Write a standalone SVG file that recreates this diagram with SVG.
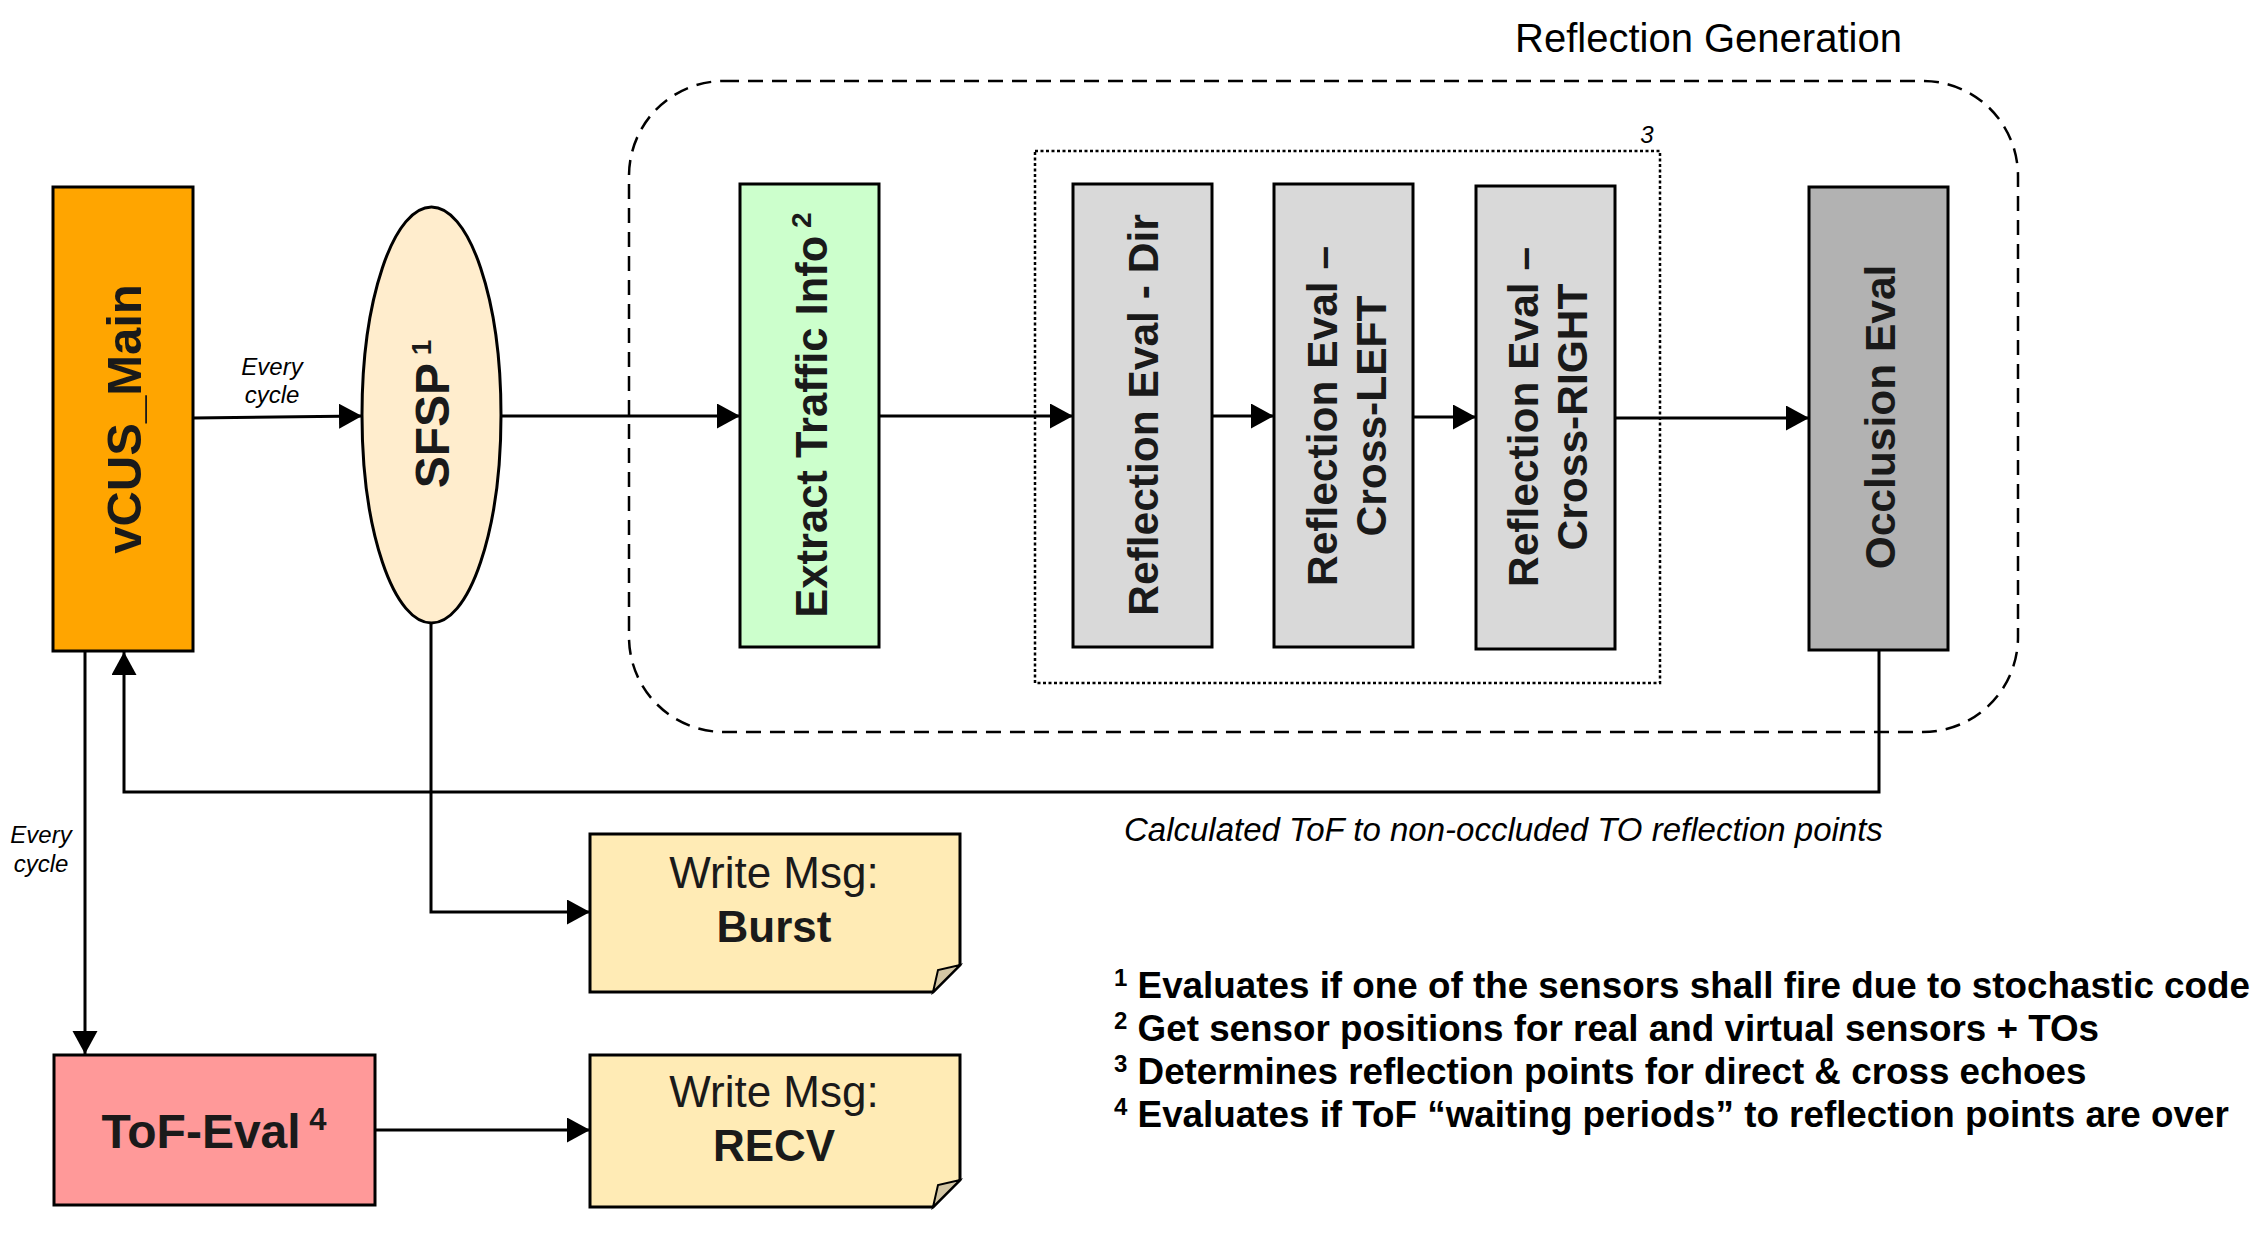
<svg xmlns="http://www.w3.org/2000/svg" width="2260" height="1233" viewBox="0 0 2260 1233">
  <style>
    .node { stroke: #000; stroke-width: 3; }
    .lbl { font-family: "Liberation Sans", Arial, sans-serif; font-weight: bold; fill: #1A1A1A; text-anchor: middle; }
    .big { font-size: 48px; }
    .mid { font-size: 42.5px; }
    .sup { font-size: 28px; }
    .msg { font-family: "Liberation Sans", Arial, sans-serif; font-size: 44px; fill: #1A1A1A; text-anchor: middle; }
    .conn { fill: none; stroke: #000; stroke-width: 3; }
    .ital { font-family: "Liberation Sans", Arial, sans-serif; font-style: italic; fill: #000; }
    .note { font-family: "Liberation Sans", Arial, sans-serif; font-weight: bold; font-size: 36.8px; fill: #000; }
    .nsup { font-size: 24px; }
  </style>
  <defs>
    <marker id="arr" markerUnits="userSpaceOnUse" markerWidth="24" markerHeight="26" refX="23" refY="12.5" orient="auto">
      <path d="M0,0 L23,12.5 L0,25 Z" fill="#000"/>
    </marker>
  </defs>
  <rect width="2260" height="1233" fill="#fff"/>

  <!-- Group frames -->
  <g id="reflection-generation">
    <rect x="629" y="81" width="1389" height="651" rx="95" ry="95" fill="none" stroke="#000" stroke-width="2.5" stroke-dasharray="15 9"/>
    <text x="1515" y="52" font-family="'Liberation Sans', Arial, sans-serif" font-size="40" fill="#000">Reflection Generation</text>
  </g>
  <g id="reflection-eval-group">
    <rect x="1035" y="151" width="625" height="532" fill="none" stroke="#000" stroke-width="2.5" stroke-dasharray="3 2.5"/>
    <text class="ital" x="1647" y="143" font-size="24" text-anchor="middle">3</text>
  </g>

  <!-- Connectors -->
  <g id="connectors">
    <path class="conn" d="M193,418 L362,416" marker-end="url(#arr)"/>
    <path class="conn" d="M501,416 L740,416" marker-end="url(#arr)"/>
    <path class="conn" d="M879,416 L1073,416" marker-end="url(#arr)"/>
    <path class="conn" d="M1212,416 L1274,416" marker-end="url(#arr)"/>
    <path class="conn" d="M1413,417 L1476,417" marker-end="url(#arr)"/>
    <path class="conn" d="M1615,418 L1809,418" marker-end="url(#arr)"/>
    <path class="conn" d="M1879,650 L1879,792 L124,792 L124,652" marker-end="url(#arr)"/>
    <path class="conn" d="M85,651 L85,1054" marker-end="url(#arr)"/>
    <path class="conn" d="M431,624 L431,912 L590,912" marker-end="url(#arr)"/>
    <path class="conn" d="M375,1130 L590,1130" marker-end="url(#arr)"/>
    <text class="ital" font-size="24" text-anchor="middle"><tspan x="272" y="375">Every</tspan><tspan x="272" y="403">cycle</tspan></text>
    <text class="ital" font-size="24" text-anchor="middle"><tspan x="41" y="843">Every</tspan><tspan x="41" y="872">cycle</tspan></text>
    <text class="ital" font-size="33" x="1124" y="841">Calculated ToF to non-occluded TO reflection points</text>
  </g>

  <!-- Nodes -->
  <g id="vcus-main">
    <rect class="node" x="53" y="187" width="140" height="464" fill="#FFA500"/>
    <text class="lbl" font-size="49" transform="translate(123,419) rotate(-90)" y="18">vCUS_Main</text>
  </g>
  <g id="sfsp">
    <ellipse class="node" cx="431.5" cy="415" rx="69.5" ry="208" fill="#FFEDCD"/>
    <text class="lbl big" transform="translate(432,414) rotate(-90)" y="17">SFSP<tspan class="sup" dy="-18"> 1</tspan></text>
  </g>
  <g id="extract-traffic-info">
    <rect class="node" x="740" y="184" width="139" height="463" fill="#CCFFCC"/>
    <text class="lbl" font-size="43.5" transform="translate(810,415) rotate(-90)" y="17">Extract Traffic Info<tspan class="sup" dy="-16"> 2</tspan></text>
  </g>
  <g id="reflection-eval-dir">
    <rect class="node" x="1073" y="184" width="139" height="463" fill="#D9D9D9"/>
    <text class="lbl mid" transform="translate(1142,415) rotate(-90)" y="16">Reflection Eval - Dir</text>
  </g>
  <g id="reflection-eval-cross-left">
    <rect class="node" x="1274" y="184" width="139" height="463" fill="#D9D9D9"/>
    <text class="lbl mid" transform="translate(1343,416) rotate(-90)"><tspan x="0" y="-6">Reflection Eval –</tspan><tspan x="0" y="43">Cross-LEFT</tspan></text>
  </g>
  <g id="reflection-eval-cross-right">
    <rect class="node" x="1476" y="186" width="139" height="463" fill="#D9D9D9"/>
    <text class="lbl mid" transform="translate(1545,417) rotate(-90)"><tspan x="0" y="-7">Reflection Eval –</tspan><tspan x="0" y="42">Cross-RIGHT</tspan></text>
  </g>
  <g id="occlusion-eval">
    <rect class="node" x="1809" y="187" width="139" height="463" fill="#B2B2B2"/>
    <text class="lbl mid" transform="translate(1878,417) rotate(-90)" y="17">Occlusion Eval</text>
  </g>
  <g id="tof-eval">
    <rect class="node" x="54" y="1055" width="321" height="150" fill="#FF9999"/>
    <text class="lbl" font-size="48" x="214" y="1148">ToF-Eval<tspan font-size="31" dy="-18"> 4</tspan></text>
  </g>
  <g id="write-msg-burst">
    <path class="node" d="M590,834 H960 V965 L933,992 H590 Z" fill="#FFEBB5"/>
    <path d="M933,992 L938,970 L960,965 Z" fill="#D3C6A4" stroke="#000" stroke-width="2"/>
    <text class="msg"><tspan x="774" y="888">Write Msg:</tspan><tspan x="774" y="942" font-weight="bold">Burst</tspan></text>
  </g>
  <g id="write-msg-recv">
    <path class="node" d="M590,1055 H960 V1180 L933,1207 H590 Z" fill="#FFEBB5"/>
    <path d="M933,1207 L938,1185 L960,1180 Z" fill="#D3C6A4" stroke="#000" stroke-width="2"/>
    <text class="msg"><tspan x="774" y="1107">Write Msg:</tspan><tspan x="774" y="1161" font-weight="bold">RECV</tspan></text>
  </g>

  <!-- Footnotes -->
  <g id="footnotes">
    <text class="note" x="1114" y="998"><tspan class="nsup" dy="-12">1</tspan><tspan dy="12"> Evaluates if one of the sensors shall fire due to stochastic code</tspan></text>
    <text class="note" x="1114" y="1041"><tspan class="nsup" dy="-12">2</tspan><tspan dy="12"> Get sensor positions for real and virtual sensors + TOs</tspan></text>
    <text class="note" x="1114" y="1084"><tspan class="nsup" dy="-12">3</tspan><tspan dy="12"> Determines reflection points for direct &amp; cross echoes</tspan></text>
    <text class="note" x="1114" y="1127"><tspan class="nsup" dy="-12">4</tspan><tspan dy="12"> Evaluates if ToF “waiting periods” to reflection points are over</tspan></text>
  </g>
</svg>
